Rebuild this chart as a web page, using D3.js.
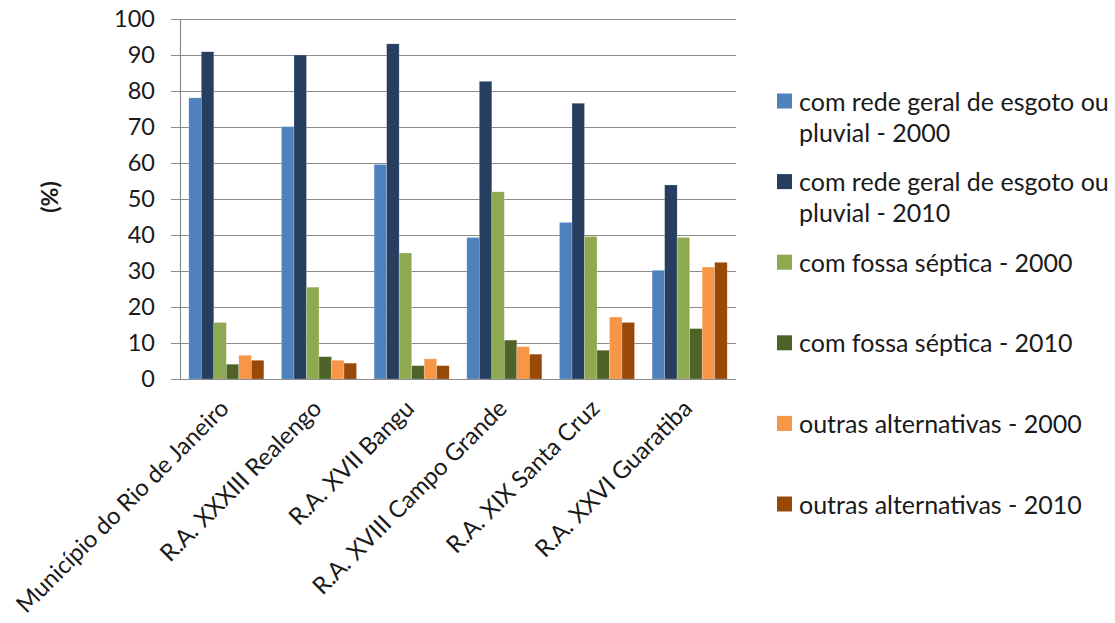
<!DOCTYPE html>
<html>
<head>
<meta charset="utf-8">
<script src="https://cdn.jsdelivr.net/npm/d3@7"></script>
<style>
  html, body { margin: 0; padding: 0; background: #fff; }
  svg { display: block; font-family: Lato, "Open Sans", sans-serif; }
</style>
</head>
<body>
<svg id="chart" width="1115" height="623"></svg>
<script>
// ---- data ----
const categories = [
  "Município do Rio de Janeiro",
  "R.A. XXXIII Realengo",
  "R.A. XVII Bangu",
  "R.A. XVIII Campo Grande",
  "R.A. XIX Santa Cruz",
  "R.A. XXVI Guaratiba"
];
const seriesNames = [
  "com rede geral de esgoto ou pluvial - 2000",
  "com rede geral de esgoto ou pluvial - 2010",
  "com fossa séptica - 2000",
  "com fossa séptica - 2010",
  "outras alternativas - 2000",
  "outras alternativas - 2010"
];
const rede2000   = [78.1, 70.1, 59.6, 39.3, 43.5, 30.2];
const rede2010   = [90.9, 90.0, 93.1, 82.7, 76.6, 53.9];
const fossa2000  = [15.7, 25.5, 35.0, 52.0, 39.6, 39.3];
const fossa2010  = [4.1, 6.2, 3.7, 10.8, 8.0, 14.0];
const outras2000 = [6.6, 5.2, 5.6, 9.0, 17.2, 31.1];
const outras2010 = [5.2, 4.4, 3.7, 6.9, 15.7, 32.4];
const yTicks = [0, 10, 20, 30, 40, 50, 60, 70, 80, 90, 100];
const yTitle = "(%)";

// legend label lines
const legendLines = [
  ["com rede geral de esgoto ou", "pluvial - 2000"],
  ["com rede geral de esgoto ou", "pluvial - 2010"],
  ["com fossa séptica - 2000"],
  ["com fossa séptica - 2010"],
  ["outras alternativas - 2000"],
  ["outras alternativas - 2010"]
];

const seriesValues = [rede2000, rede2010, fossa2000, fossa2010, outras2000, outras2010];
const colors = ["#4F81BD", "#263F61", "#8EA94F", "#4F6228", "#F79646", "#984807"];

// ---- layout ----
const svg = d3.select("#chart");
const plot = { left: 180, right: 736, top: 19, bottom: 379 };

const y = d3.scaleLinear().domain([0, 100]).range([plot.bottom, plot.top]);
const x0 = d3.scaleBand().domain(categories).range([plot.left, plot.right])
  .paddingInner(0.19).paddingOuter(0.095);
const x1 = d3.scaleBand().domain(d3.range(seriesNames.length)).range([0, x0.bandwidth()]);
const color = d3.scaleOrdinal().domain(d3.range(seriesNames.length)).range(colors);

// gridlines + tick marks
svg.append("g").selectAll("line").data(yTicks).join("line")
  .attr("x1", plot.left - 9).attr("x2", plot.right)
  .attr("y1", d => Math.round(y(d)) + 0.5).attr("y2", d => Math.round(y(d)) + 0.5)
  .attr("stroke", "#8c8c8c").attr("stroke-width", 1.2);

// vertical axis line
svg.append("line")
  .attr("x1", plot.left + 0.5).attr("x2", plot.left + 0.5)
  .attr("y1", y(100)).attr("y2", y(0))
  .attr("stroke", "#8c8c8c").attr("stroke-width", 1.2);

// y tick labels
svg.append("g").selectAll("text").data(yTicks).join("text")
  .attr("x", 155).attr("y", d => y(d)).attr("dy", "0.36em")
  .attr("text-anchor", "end")
  .attr("font-size", 23.5).attr("fill", "#1a1a1a")
  .text(d => d);

// bars
const rows = categories.map((c, i) => ({ cat: c, vals: seriesValues.map(s => s[i]) }));
const groups = svg.append("g").selectAll("g").data(rows).join("g")
  .attr("transform", d => `translate(${x0(d.cat)},0)`);
groups.selectAll("rect").data(d => d.vals.map((v, k) => ({ k, v }))).join("rect")
  .attr("x", d => x1(d.k)).attr("width", x1.bandwidth())
  .attr("y", d => y(d.v)).attr("height", d => y(0) - y(d.v))
  .attr("fill", d => color(d.k))
  .attr("stroke", "rgba(255,255,255,0.35)").attr("stroke-width", 0.6);

// bottom axis line (over bars)
svg.append("line")
  .attr("x1", plot.left).attr("x2", plot.right)
  .attr("y1", Math.round(y(0)) + 0.5).attr("y2", Math.round(y(0)) + 0.5)
  .attr("stroke", "#8c8c8c").attr("stroke-width", 1.2);

// x labels
svg.append("g").selectAll("text").data(categories).join("text")
  .attr("transform", d => `translate(${x0(d) + x0.bandwidth() / 2 + 4},${plot.bottom + 31}) rotate(-45)`)
  .attr("text-anchor", "end")
  .attr("font-size", 23.8).attr("fill", "#1a1a1a")
  .text(d => d);

// y title
svg.append("text")
  .attr("transform", "translate(50,197) rotate(-90)")
  .attr("text-anchor", "middle").attr("dy", "0.35em")
  .attr("font-size", 23).attr("font-weight", "bold").attr("fill", "#1a1a1a")
  .text(yTitle);

// legend
const legendX = 777, legendY0 = 101, legendStep = 80.6, lineH = 31;
const leg = svg.append("g").selectAll("g").data(legendLines).join("g")
  .attr("transform", (d, i) => `translate(${legendX},${legendY0 + i * legendStep})`);
leg.append("rect").attr("x", 0).attr("y", -7.5).attr("width", 15).attr("height", 15)
  .attr("fill", (d, i) => color(i));
leg.each(function (lines) {
  const t = d3.select(this).append("text").attr("font-size", 25).attr("fill", "#1a1a1a");
  lines.forEach((ln, j) => {
    t.append("tspan").attr("x", 22).attr("y", j * lineH).attr("dy", "0.38em").text(ln);
  });
});
</script>
</body>
</html>
